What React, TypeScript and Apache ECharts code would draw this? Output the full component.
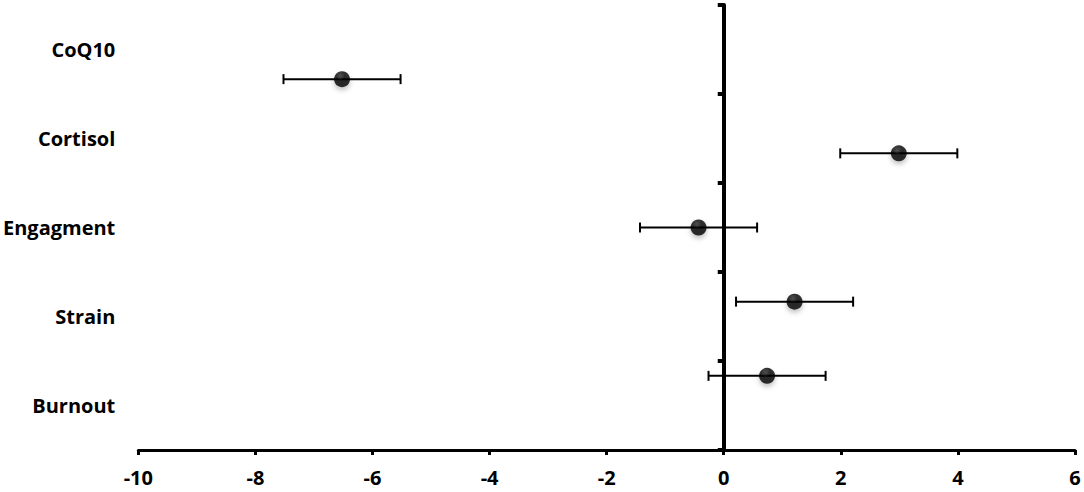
import React, { useEffect, useRef } from "react";
import * as echarts from "echarts";

const categories = ["Burnout", "Strain", "Engagment", "Cortisol", "CoQ10"];
const estimates = [0.74, 1.21, -0.43, 2.99, -6.52];
const lower = [-0.26, 0.21, -1.43, 1.99, -7.52];
const upper = [1.74, 2.21, 0.57, 3.99, -5.52];
const rowPositions = [0.833, 1.667, 2.5, 3.333, 4.167];
const xTicks = { min: -10, max: 6, interval: 2 };

export default function App() {
  const ref = useRef<HTMLDivElement>(null);
  useEffect(() => {
    if (!ref.current) return;
    const chart = echarts.init(ref.current, null, { renderer: "svg" });
    const font = "'Open Sans', sans-serif";
    const pointData = estimates.map((v, i) => [v, rowPositions[i]]);
    const errData = lower.map((lo, i) => [lo, upper[i], rowPositions[i]]);
    chart.setOption({
      animation: false,
      backgroundColor: "#fff",
      grid: { left: 138, right: 9, top: 5, bottom: 42, containLabel: false },
      xAxis: {
        type: "value",
        min: xTicks.min,
        max: xTicks.max,
        interval: xTicks.interval,
        axisLine: { show: true, lineStyle: { color: "#000", width: 3 } },
        axisTick: { show: true, length: 5, lineStyle: { color: "#000", width: 3 } },
        axisLabel: { color: "#000", fontSize: 20, fontWeight: "bold", fontFamily: font, margin: 17 },
        splitLine: { show: false },
      },
      yAxis: [
        {
          type: "value",
          min: 0,
          max: 5,
          interval: 1,
          axisLine: { show: true, onZero: true, lineStyle: { color: "#000", width: 4 } },
          axisTick: { show: true, length: 6, lineStyle: { color: "#000", width: 4 } },
          axisLabel: { show: false },
          splitLine: { show: false },
        },
        {
          type: "category",
          data: categories,
          position: "left",
          axisLine: { show: false, onZero: false },
          axisTick: { show: false },
          axisLabel: { color: "#000", fontSize: 20, fontWeight: "bold", fontFamily: font, margin: 23 },
          splitLine: { show: false },
        },
      ],
      series: [
        {
          type: "custom",
          yAxisIndex: 0,
          data: errData,
          encode: { x: [0, 1], y: 2 },
          z: 2,
          renderItem: (params: any, api: any) => {
            const p1 = api.coord([api.value(0), api.value(2)]);
            const p2 = api.coord([api.value(1), api.value(2)]);
            const h = 5;
            const style = { stroke: "#000", lineWidth: 2 };
            return {
              type: "group",
              children: [
                { type: "line", shape: { x1: p1[0], y1: p1[1], x2: p2[0], y2: p2[1] }, style },
                { type: "line", shape: { x1: p1[0], y1: p1[1] - h, x2: p1[0], y2: p1[1] + h }, style },
                { type: "line", shape: { x1: p2[0], y1: p2[1] - h, x2: p2[0], y2: p2[1] + h }, style },
              ],
            };
          },
        },
        {
          type: "scatter",
          yAxisIndex: 0,
          data: pointData,
          symbol: "circle",
          symbolSize: 16,
          z: 3,
          itemStyle: {
            color: new echarts.graphic.RadialGradient(0.4, 0.3, 0.65, [
              { offset: 0, color: "#2e2e2e" },
              { offset: 0.4, color: "#050505" },
              { offset: 1, color: "#000" },
            ]),
            shadowBlur: 5,
            shadowOffsetY: 3,
            shadowColor: "rgba(0,0,0,0.3)",
          },
        },
      ],
    });
    return () => chart.dispose();
  }, []);
  return <div ref={ref} style={{ position: "fixed", left: 0, top: 0, width: 1084, height: 492 }} />;
}
